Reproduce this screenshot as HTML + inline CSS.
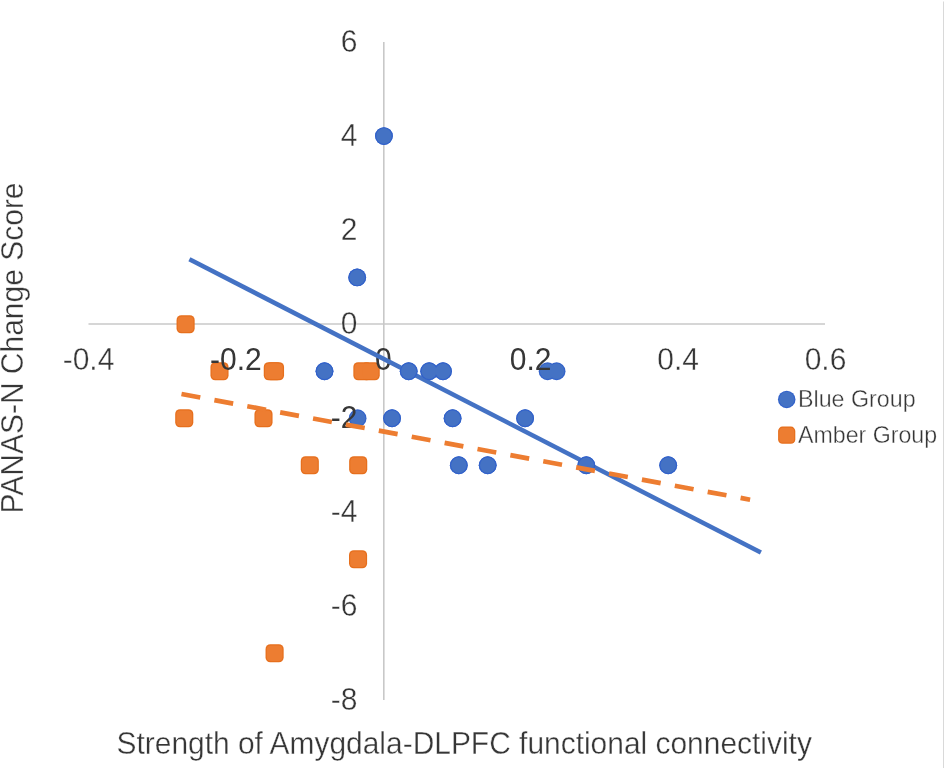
<!DOCTYPE html>
<html><head><meta charset="utf-8"><style>
html,body{margin:0;padding:0;background:#fff;width:945px;height:768px;overflow:hidden}
svg{position:absolute;left:0;top:0;display:block;will-change:transform}
</style></head><body>
<svg width="945" height="768" viewBox="0 0 945 768">
<line x1="383.8" y1="42" x2="383.8" y2="700" stroke="#C8C8C8" stroke-width="1.6"/>
<line x1="88.5" y1="324" x2="825" y2="324" stroke="#C8C8C8" stroke-width="1.6"/>
<line x1="943.5" y1="1.5" x2="943.5" y2="768" stroke="#D9D9D9" stroke-width="1"/>
<rect x="176.55" y="315.20" width="18.1" height="18.1" rx="4.8" fill="#E66F1D"/><rect x="210.45" y="362.20" width="18.1" height="18.1" rx="4.8" fill="#E66F1D"/><rect x="263.75" y="362.20" width="18.1" height="18.1" rx="4.8" fill="#E66F1D"/><rect x="265.95" y="362.20" width="18.1" height="18.1" rx="4.8" fill="#E66F1D"/><rect x="353.35" y="362.20" width="18.1" height="18.1" rx="4.8" fill="#E66F1D"/><rect x="361.65" y="362.20" width="18.1" height="18.1" rx="4.8" fill="#E66F1D"/><rect x="175.20" y="409.20" width="18.1" height="18.1" rx="4.8" fill="#E66F1D"/><rect x="254.45" y="409.20" width="18.1" height="18.1" rx="4.8" fill="#E66F1D"/><rect x="300.75" y="456.20" width="18.1" height="18.1" rx="4.8" fill="#E66F1D"/><rect x="349.15" y="456.20" width="18.1" height="18.1" rx="4.8" fill="#E66F1D"/><rect x="349.00" y="550.20" width="18.1" height="18.1" rx="4.8" fill="#E66F1D"/><rect x="265.55" y="644.20" width="18.1" height="18.1" rx="4.8" fill="#E66F1D"/><rect x="177.75" y="316.40" width="15.70" height="15.70" rx="4.08" fill="#ED7D31"/><rect x="211.65" y="363.40" width="15.70" height="15.70" rx="4.08" fill="#ED7D31"/><rect x="264.95" y="363.40" width="15.70" height="15.70" rx="4.08" fill="#ED7D31"/><rect x="267.15" y="363.40" width="15.70" height="15.70" rx="4.08" fill="#ED7D31"/><rect x="354.55" y="363.40" width="15.70" height="15.70" rx="4.08" fill="#ED7D31"/><rect x="362.85" y="363.40" width="15.70" height="15.70" rx="4.08" fill="#ED7D31"/><rect x="176.40" y="410.40" width="15.70" height="15.70" rx="4.08" fill="#ED7D31"/><rect x="255.65" y="410.40" width="15.70" height="15.70" rx="4.08" fill="#ED7D31"/><rect x="301.95" y="457.40" width="15.70" height="15.70" rx="4.08" fill="#ED7D31"/><rect x="350.35" y="457.40" width="15.70" height="15.70" rx="4.08" fill="#ED7D31"/><rect x="350.20" y="551.40" width="15.70" height="15.70" rx="4.08" fill="#ED7D31"/><rect x="266.75" y="645.40" width="15.70" height="15.70" rx="4.08" fill="#ED7D31"/>
<circle cx="383.95" cy="136.05" r="8.9" fill="#3262CA"/><circle cx="357.2" cy="277.45" r="8.9" fill="#3262CA"/><circle cx="324.5" cy="371.25" r="8.9" fill="#3262CA"/><circle cx="408.7" cy="371.25" r="8.9" fill="#3262CA"/><circle cx="429.2" cy="371.25" r="8.9" fill="#3262CA"/><circle cx="443" cy="371.25" r="8.9" fill="#3262CA"/><circle cx="547.6" cy="371.25" r="8.9" fill="#3262CA"/><circle cx="556.6" cy="371.25" r="8.9" fill="#3262CA"/><circle cx="357.6" cy="418.25" r="8.9" fill="#3262CA"/><circle cx="392.05" cy="418.25" r="8.9" fill="#3262CA"/><circle cx="452.6" cy="418.25" r="8.9" fill="#3262CA"/><circle cx="525.1" cy="418.25" r="8.9" fill="#3262CA"/><circle cx="458.8" cy="465.25" r="8.9" fill="#3262CA"/><circle cx="487.7" cy="465.25" r="8.9" fill="#3262CA"/><circle cx="586.3" cy="465.25" r="8.9" fill="#3262CA"/><circle cx="668.2" cy="465.25" r="8.9" fill="#3262CA"/><circle cx="383.95" cy="136.05" r="7.70" fill="#4472C4"/><circle cx="357.2" cy="277.45" r="7.70" fill="#4472C4"/><circle cx="324.5" cy="371.25" r="7.70" fill="#4472C4"/><circle cx="408.7" cy="371.25" r="7.70" fill="#4472C4"/><circle cx="429.2" cy="371.25" r="7.70" fill="#4472C4"/><circle cx="443" cy="371.25" r="7.70" fill="#4472C4"/><circle cx="547.6" cy="371.25" r="7.70" fill="#4472C4"/><circle cx="556.6" cy="371.25" r="7.70" fill="#4472C4"/><circle cx="357.6" cy="418.25" r="7.70" fill="#4472C4"/><circle cx="392.05" cy="418.25" r="7.70" fill="#4472C4"/><circle cx="452.6" cy="418.25" r="7.70" fill="#4472C4"/><circle cx="525.1" cy="418.25" r="7.70" fill="#4472C4"/><circle cx="458.8" cy="465.25" r="7.70" fill="#4472C4"/><circle cx="487.7" cy="465.25" r="7.70" fill="#4472C4"/><circle cx="586.3" cy="465.25" r="7.70" fill="#4472C4"/><circle cx="668.2" cy="465.25" r="7.70" fill="#4472C4"/>
<g font-family="Liberation Sans" fill="#363636" stroke="#fff" stroke-width="0.35" font-size="30"><text transform="translate(357.5,51.6) scale(1,1.07)" text-anchor="end">6</text><text transform="translate(357.5,145.6) scale(1,1.07)" text-anchor="end">4</text><text transform="translate(357.5,239.6) scale(1,1.07)" text-anchor="end">2</text><text transform="translate(357.5,333.6) scale(1,1.07)" text-anchor="end">0</text><text transform="translate(357.5,427.6) scale(1,1.07)" text-anchor="end" stroke="none">-2</text><text transform="translate(357.5,521.6) scale(1,1.07)" text-anchor="end">-4</text><text transform="translate(357.5,615.6) scale(1,1.07)" text-anchor="end">-6</text><text transform="translate(357.5,709.6) scale(1,1.07)" text-anchor="end">-8</text><text transform="translate(88.5,369.5) scale(1,1.07)" text-anchor="middle">-0.4</text><text transform="translate(235.9,369.5) scale(1,1.07)" text-anchor="middle" stroke="none">-0.2</text><text transform="translate(383.3,369.5) scale(1,1.07)" text-anchor="middle" stroke="none">0</text><text transform="translate(530.7,369.5) scale(1,1.07)" text-anchor="middle" stroke="none">0.2</text><text transform="translate(678.1,369.5) scale(1,1.07)" text-anchor="middle">0.4</text><text transform="translate(825.5,369.5) scale(1,1.07)" text-anchor="middle">0.6</text></g>
<line x1="189.4" y1="259.2" x2="760.9" y2="552.6" stroke="#4472C4" stroke-width="4.5"/>
<circle cx="383.95" cy="136.05" r="8.9" fill="#3262CA"/><circle cx="357.2" cy="277.45" r="8.9" fill="#3262CA"/><circle cx="324.5" cy="371.25" r="8.9" fill="#3262CA"/><circle cx="408.7" cy="371.25" r="8.9" fill="#3262CA"/><circle cx="429.2" cy="371.25" r="8.9" fill="#3262CA"/><circle cx="443" cy="371.25" r="8.9" fill="#3262CA"/><circle cx="392.05" cy="418.25" r="8.9" fill="#3262CA"/><circle cx="452.6" cy="418.25" r="8.9" fill="#3262CA"/><circle cx="525.1" cy="418.25" r="8.9" fill="#3262CA"/><circle cx="458.8" cy="465.25" r="8.9" fill="#3262CA"/><circle cx="487.7" cy="465.25" r="8.9" fill="#3262CA"/><circle cx="586.3" cy="465.25" r="8.9" fill="#3262CA"/><circle cx="668.2" cy="465.25" r="8.9" fill="#3262CA"/><circle cx="383.95" cy="136.05" r="7.70" fill="#4472C4"/><circle cx="357.2" cy="277.45" r="7.70" fill="#4472C4"/><circle cx="324.5" cy="371.25" r="7.70" fill="#4472C4"/><circle cx="408.7" cy="371.25" r="7.70" fill="#4472C4"/><circle cx="429.2" cy="371.25" r="7.70" fill="#4472C4"/><circle cx="443" cy="371.25" r="7.70" fill="#4472C4"/><circle cx="392.05" cy="418.25" r="7.70" fill="#4472C4"/><circle cx="452.6" cy="418.25" r="7.70" fill="#4472C4"/><circle cx="525.1" cy="418.25" r="7.70" fill="#4472C4"/><circle cx="458.8" cy="465.25" r="7.70" fill="#4472C4"/><circle cx="487.7" cy="465.25" r="7.70" fill="#4472C4"/><circle cx="586.3" cy="465.25" r="7.70" fill="#4472C4"/><circle cx="668.2" cy="465.25" r="7.70" fill="#4472C4"/>
<line x1="181.5" y1="394" x2="750.1" y2="499.7" stroke="#ED7D31" stroke-width="4.7" stroke-dasharray="19.1 14.35"/>
<text transform="translate(116.5,754.4) scale(0.998,1.05)" font-family="Liberation Sans" fill="#363636" stroke="#fff" stroke-width="0.35" font-size="30">Strength of Amygdala-DLPFC functional connectivity</text>
<text transform="translate(22.6,513.5) rotate(-90) scale(1,1.07)" font-family="Liberation Sans" fill="#363636" stroke="#fff" stroke-width="0.35" font-size="30">PANAS-N Change Score</text>
<circle cx="786.7" cy="399.40" r="8.75" fill="#3262CA"/><circle cx="786.7" cy="399.40" r="7.55" fill="#4472C4"/>
<rect x="778.10" y="426.60" width="17.2" height="17.2" rx="4.4" fill="#E66F1D"/><rect x="779.30" y="427.80" width="14.80" height="14.80" rx="3.68" fill="#ED7D31"/>
<text transform="translate(798,407) scale(1.012,1)" font-family="Liberation Sans" fill="#363636" stroke="#fff" stroke-width="0.35" font-size="23">Blue Group</text>
<text transform="translate(798,443.2) scale(1.008,1)" font-family="Liberation Sans" fill="#363636" stroke="#fff" stroke-width="0.35" font-size="23">Amber Group</text>
</svg>
</body></html>
